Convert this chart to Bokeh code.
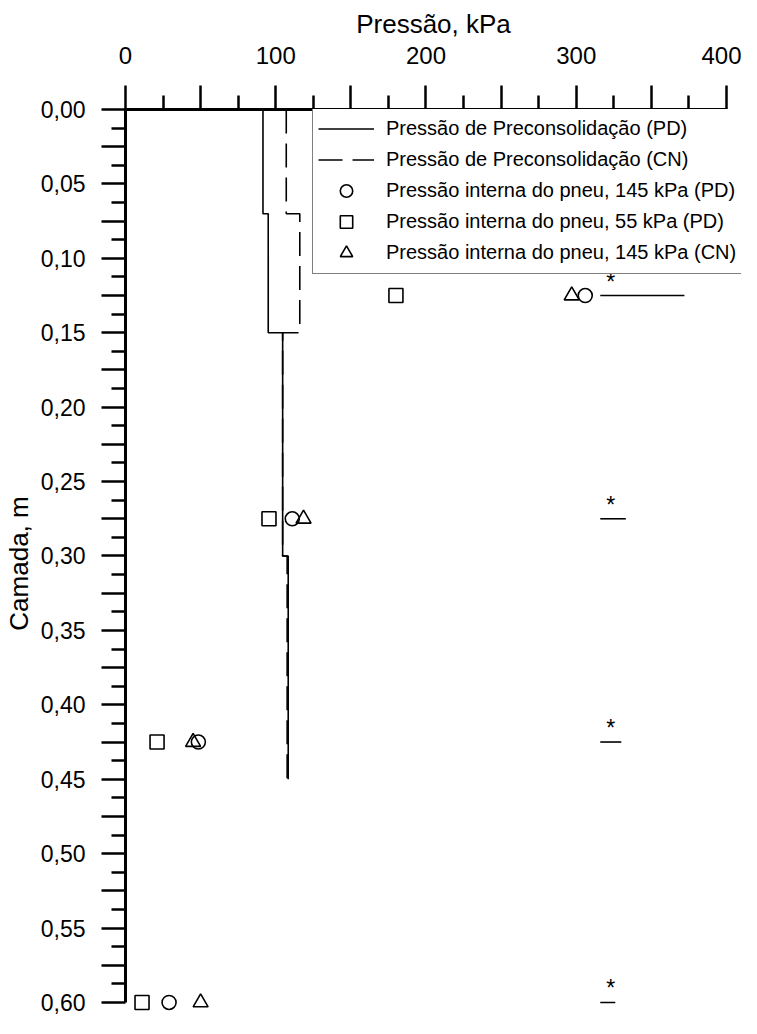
from bokeh.plotting import figure
from bokeh.models import (Range1d, FixedTicker, CustomJSTickFormatter, Legend,
                          LegendItem, ColumnDataSource)
from bokeh.embed import file_html
from bokeh.resources import INLINE
from bokeh.core.properties import value

# ---------------- data ----------------
layer_top = [0.00, 0.07, 0.15, 0.30]
layer_bottom = [0.07, 0.15, 0.30, 0.45]
pc_pd = [91.5, 95.0, 104.6, 108.3]     # Pressão de Preconsolidação (PD)
pc_cn = [107.0, 116.0, 104.6, 107.6]   # Pressão de Preconsolidação (CN)

depth = [0.125, 0.275, 0.425, 0.600]
tyre145_pd = [306.0, 111.0, 48.5, 29.0]
tyre55_pd = [180.0, 95.5, 21.0, 11.0]
tyre145_cn = [297.0, 118.5, 45.0, 50.0]

sig_start = [316.0, 316.0, 316.0, 316.0]
sig_end = [372.0, 333.0, 330.0, 326.0]
sig_star_x = [323.0, 323.0, 323.0, 323.0]
sig_text = ["*", "*", "*", "*"]

x_major = [0, 50, 100, 150, 200, 250, 300, 350, 400]
x_minor = [25, 75, 125, 175, 225, 275, 325, 375]
y_major = [round(0.025 * i, 4) for i in range(25)]
y_minor = [round(0.0125 + 0.025 * i, 5) for i in range(24)]

FONT = "Liberation Sans"


def step_path(vals, tops, bottoms):
    xs, ys = [], []
    for v, t, b in zip(vals, tops, bottoms):
        xs += [v, v]
        ys += [t, b]
    return xs, ys


pd_x, pd_y = step_path(pc_pd, layer_top, layer_bottom)
cn_x, cn_y = step_path(pc_cn, layer_top, layer_bottom)

p = figure(width=741, height=1018,
           x_range=Range1d(0, 410), y_range=Range1d(0.6101, 0),
           x_axis_location="above",
           output_backend="svg", toolbar_location=None,
           min_border_left=122, min_border_top=109,
           min_border_right=0, min_border_bottom=1)
p.outline_line_color = None
p.xgrid.grid_line_color = None
p.ygrid.grid_line_color = None
p.background_fill_color = "white"
p.border_fill_color = "white"

# x axis (top)
xa = p.xaxis[0]
xa.bounds = (0, 400)
xa.ticker = FixedTicker(ticks=x_major, minor_ticks=x_minor)
xa.formatter = CustomJSTickFormatter(code="return (tick % 100 === 0) ? tick.toFixed(0) : '';")
xa.axis_label = "Pressão, kPa"
xa.axis_label_text_font = FONT
xa.axis_label_text_font_size = "26px"
xa.axis_label_text_font_style = "normal"
xa.axis_label_text_color = "black"
xa.axis_label_standoff = 5
xa.major_label_text_font = FONT
xa.major_label_text_font_size = "24px"
xa.major_label_text_color = "black"
xa.major_label_standoff = 22
xa.axis_line_width = 3
xa.axis_line_color = "black"
xa.major_tick_out = 24
xa.major_tick_in = 0
xa.minor_tick_out = 14
xa.minor_tick_in = 0
xa.major_tick_line_width = 2.5
xa.minor_tick_line_width = 2.5
xa.major_tick_line_color = "black"
xa.minor_tick_line_color = "black"

# y axis (left)
ya = p.yaxis[0]
ya.bounds = (0, 0.6)
ya.ticker = FixedTicker(ticks=y_major, minor_ticks=y_minor)
ya.formatter = CustomJSTickFormatter(code="""
var k = Math.round(tick * 1000);
if (k % 50 !== 0) { return ''; }
return tick.toFixed(2).replace('.', ',');
""")
ya.axis_label = "Camada, m"
ya.axis_label_text_font = FONT
ya.axis_label_text_font_size = "26px"
ya.axis_label_text_font_style = "normal"
ya.axis_label_text_color = "black"
ya.axis_label_standoff = 4
ya.major_label_text_font = FONT
ya.major_label_text_font_size = "23px"
ya.major_label_text_color = "black"
ya.major_label_standoff = 16
ya.axis_line_width = 3
ya.axis_line_color = "black"
ya.major_tick_out = 24
ya.major_tick_in = 0
ya.minor_tick_out = 14
ya.minor_tick_in = 0
ya.major_tick_line_width = 2.5
ya.minor_tick_line_width = 2.5
ya.major_tick_line_color = "black"
ya.minor_tick_line_color = "black"

# step lines
r_pd = p.line(pd_x, pd_y, line_color="black", line_width=1.6)
r_cn = p.line(cn_x, cn_y, line_color="black", line_width=1.6, line_dash="24 10")

# markers
r_c = p.scatter(tyre145_pd, depth, marker="circle", size=14, fill_color=None,
                line_color="black", line_width=1.6)
r_s = p.scatter(tyre55_pd, depth, marker="square", size=14, fill_color=None,
                line_color="black", line_width=1.6)
r_t = p.scatter(tyre145_cn, depth, marker="triangle", size=15, fill_color=None,
                line_color="black", line_width=1.6)

# significance marks
sig = ColumnDataSource(dict(x0=sig_start, x1=sig_end, y=depth, sx=sig_star_x, t=sig_text))
p.segment(x0="x0", y0="y", x1="x1", y1="y", source=sig, line_color="black", line_width=1.6)
p.text(x="sx", y="y", text="t", source=sig, text_align="center", text_baseline="middle",
       y_offset=-14, text_font=value(FONT), text_font_size="23px", text_color="black")

legend = Legend(items=[
    LegendItem(label="Pressão de Preconsolidação (PD)", renderers=[r_pd]),
    LegendItem(label="Pressão de Preconsolidação (CN)", renderers=[r_cn]),
    LegendItem(label="Pressão interna do pneu, 145 kPa (PD)", renderers=[r_c]),
    LegendItem(label="Pressão interna do pneu, 55 kPa (PD)", renderers=[r_s]),
    LegendItem(label="Pressão interna do pneu, 145 kPa (CN)", renderers=[r_t]),
], location=(187, 743))
legend.label_text_font = FONT
legend.label_text_font_size = "20px"
legend.label_text_color = "black"
legend.glyph_width = 56
legend.glyph_height = 31
legend.label_height = 31
legend.label_width = 372
legend.label_standoff = 12
legend.spacing = 0
legend.padding = 5
legend.margin = 0
legend.border_line_color = "black"
legend.border_line_width = 1
legend.background_fill_color = "white"
legend.background_fill_alpha = 1.0
p.add_layout(legend, "center")

open("out.html", "w").write(file_html(p, INLINE))
